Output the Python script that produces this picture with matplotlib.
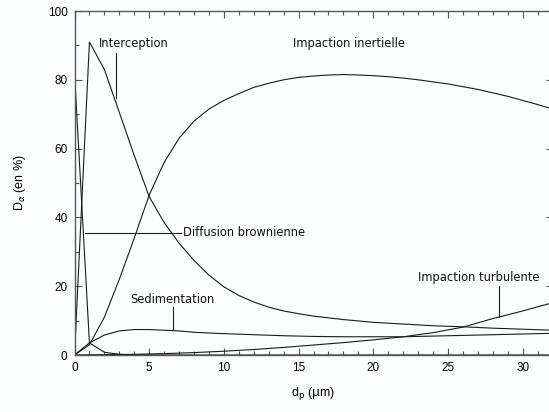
import matplotlib
matplotlib.use("Agg")
import matplotlib.pyplot as plt
from matplotlib.ticker import MultipleLocator

# ---- data ----
x_diff = [0, 1, 2, 3, 4, 6, 10, 15, 20, 25, 32]
y_diff = [82, 3.5, 0.8, 0.2, 0.05, 0, 0, 0, 0, 0, 0]

x_int = [0, 1, 2, 3, 4, 5, 6, 7, 8, 9, 10, 11, 12, 13, 14, 15, 16, 17, 18, 20, 22, 24, 26, 28, 30, 32]
y_int = [0, 91, 83, 70.5, 58, 46, 38.5, 32.5, 27.5, 23.2, 19.8, 17.3, 15.4, 13.9, 12.8, 12.0,
         11.3, 10.8, 10.3, 9.5, 9, 8.5, 8.2, 7.8, 7.5, 7.2]

x_sed = [0, 1, 2, 3, 4, 5, 6, 7, 8, 10, 12, 14, 16, 18, 20, 22, 24, 26, 28, 30, 32]
y_sed = [0, 3.5, 5.8, 7, 7.4, 7.4, 7.2, 7.0, 6.6, 6.2, 5.9, 5.6, 5.4, 5.3, 5.3, 5.3, 5.5,
         5.7, 5.9, 6.1, 6.3]

x_iner = list(range(0, 33))
y_iner = [0, 3, 11, 22, 34, 46.5, 56, 63, 68, 71.5, 74, 76, 77.8, 79, 80, 80.7, 81.1, 81.4,
          81.5, 81.4, 81.2, 80.9, 80.5, 80, 79.4, 78.8, 78, 77.2, 76.2, 75.2, 74, 72.8, 71.5]

x_turb = [0, 2, 4, 6, 8, 10, 12, 14, 16, 18, 20, 22, 24, 26, 28, 30, 32]
y_turb = [0, 0.1, 0.2, 0.4, 0.7, 1.1, 1.6, 2.2, 2.9, 3.6, 4.4, 5.3, 6.5, 8.1, 10.6, 12.8, 15.2]

labels = ["Interception", "Impaction inertielle", "Diffusion brownienne",
          "Sedimentation", "Impaction turbulente"]

x_ticks = [0, 5, 10, 15, 20, 25, 30]
y_ticks = [0, 20, 40, 60, 80, 100]

# ---- figure ----
W, H = 549, 412
fig = plt.figure(figsize=(W / 100, H / 100), dpi=100)
fig.patch.set_facecolor("#fcfdfe")
left_px, right_px, top_px, bottom_px = 74.5, 552.6, 11, 355
ax = fig.add_axes([left_px / W, (H - bottom_px) / H,
                   (right_px - left_px) / W, (bottom_px - top_px) / H])
ax.set_facecolor("#fcfdfe")

lc = "#1a1a1a"
lw = 0.8
for xs, ys in [(x_diff, y_diff), (x_int, y_int), (x_sed, y_sed),
               (x_iner, y_iner), (x_turb, y_turb)]:
    ax.plot(xs, ys, color=lc, lw=lw, solid_joinstyle="miter")

ax.set_xlim(0, 32)
ax.set_ylim(0, 100)
ax.set_xticks(x_ticks)
ax.set_yticks(y_ticks)
ax.xaxis.set_minor_locator(MultipleLocator(1))
ax.yaxis.set_minor_locator(MultipleLocator(10))

tick_font = dict(family="Liberation Sans", size=8.5)
ax.set_xticklabels([str(v) for v in x_ticks], **tick_font)
ax.set_yticklabels([str(v) for v in y_ticks], **tick_font)

ax.tick_params(which="both", direction="in", top=True, right=True,
               color="#555555", width=0.8)
ax.tick_params(which="major", length=5, pad=5)
ax.tick_params(which="minor", length=3)
for s in ax.spines.values():
    s.set_color("#555555")
    s.set_linewidth(1.0)

ax.set_ylabel(r"D$_{\alpha}$ (en %)", family="Liberation Sans", size=9, labelpad=14)
ax.set_xlabel(r"d$_{\mathrm{p}}$ ($\mathrm{\mu}$m)", family="Liberation Sans", size=9, labelpad=8)

txt = dict(family="DejaVu Sans", size=8.3, color="#111111", va="center")
# Interception
ax.text(1.65, 90.5, labels[0], ha="left", **txt)
ax.plot([2.77, 2.77], [87.8, 74.7], color=lc, lw=lw)
# Impaction inertielle
ax.text(14.6, 90.5, labels[1], ha="left", **txt)
# Diffusion brownienne
ax.plot([0.7, 7.1], [35.5, 35.5], color=lc, lw=lw)
ax.text(7.25, 35.5, labels[2], ha="left", **txt)
# Sedimentation
ax.text(3.75, 16.2, labels[3], ha="left", **txt)
ax.plot([6.56, 6.56], [14.0, 7.3], color=lc, lw=lw)
# Impaction turbulente
ax.text(23.0, 22.5, labels[4], ha="left", **txt)
ax.plot([28.4, 28.4], [20.0, 11.1], color=lc, lw=lw)

fig.savefig("out.png", dpi=100, facecolor=fig.get_facecolor())
